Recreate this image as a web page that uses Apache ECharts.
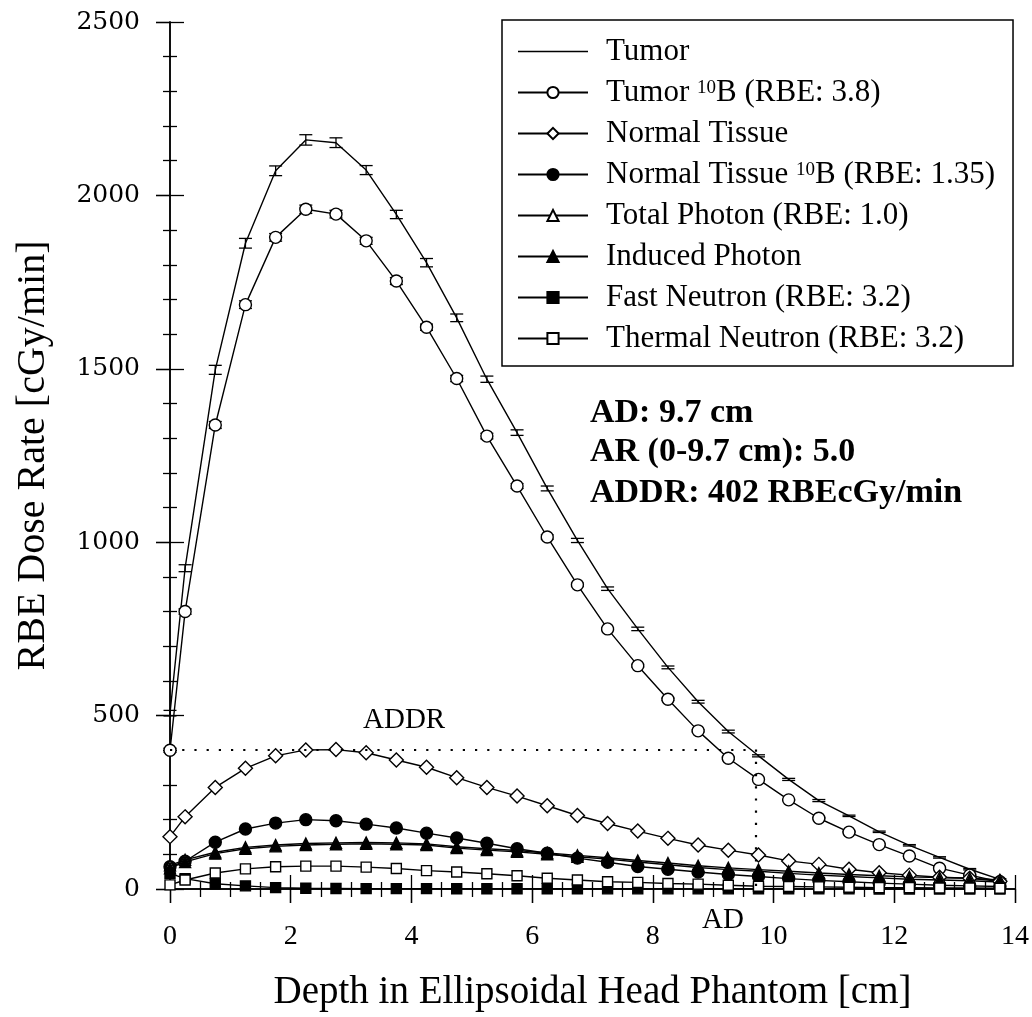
<!DOCTYPE html>
<html>
<head>
<meta charset="utf-8">
<script src="https://cdn.jsdelivr.net/npm/echarts@6/dist/echarts.min.js"></script>
<style>
  html, body { margin: 0; padding: 0; background: #fff; }
  #chart { width: 1032px; height: 1017px; }
</style>
</head>
<body>
<div id="chart"></div>
<script>
// Depth of each sample point in the phantom [cm]
const depth = [0, 0.25, 0.75, 1.25, 1.75, 2.25, 2.75, 3.25, 3.75, 4.25, 4.75, 5.25, 5.75, 6.25,
  6.75, 7.25, 7.75, 8.25, 8.75, 9.25, 9.75, 10.25, 10.75, 11.25, 11.75, 12.25, 12.75, 13.25, 13.75];

// RBE dose rates [cGy/min]
const tumor = [507, 925, 1497, 1862, 2071, 2160, 2152, 2073, 1945, 1806, 1647, 1470, 1316, 1155,
  1005, 866, 750, 639, 540, 454, 384, 316, 255, 211, 165, 126, 91, 57, 28];
const tumorErr = [8, 10, 13, 14, 14, 15, 14, 13, 12, 12, 11, 9, 8, 7, 6, 5, 5, 4, 4, 4, 3, 3, 3, 2, 2, 2, 2, 2, 2];

const tumorB10 = [400, 800, 1338, 1685, 1879, 1960, 1946, 1869, 1753, 1620, 1472, 1306, 1162, 1015,
  877, 750, 644, 547, 456, 377, 316, 257, 204, 164, 128, 95, 60, 40, 21];
const tumorB10Err = [6, 8, 10, 11, 11, 12, 11, 10, 10, 9, 9, 8, 7, 6, 5, 4, 4, 3, 3, 3, 2, 2, 2, 2, 2, 1, 1, 1, 1];

const normalTissue = [151, 208, 293, 348, 384, 401, 402, 393, 372, 351, 321, 293, 268, 240,
  212, 189, 167, 146, 127, 112, 98, 81, 71, 57, 47, 40, 34, 31, 22];

const normalB10 = [64, 80, 135, 173, 190, 200, 197, 187, 176, 161, 147, 132, 116, 103,
  89, 77, 65, 57, 49, 42, 36, 30, 25, 21, 17, 14, 11, 9, 7];

const totalPhoton = [68, 84, 106, 120, 127, 131, 133, 134, 133, 130, 122, 116, 111, 104,
  97, 90, 82, 75, 67, 61, 56, 51, 46, 42, 38, 35, 33, 31, 26];

const inducedPhoton = [60, 78, 102, 116, 123, 127, 129, 130, 129, 127, 118, 112, 107, 100,
  93, 86, 78, 70, 62, 56, 51, 45, 40, 36, 32, 28, 26, 24, 20];

const fastNeutron = [45, 30, 15, 9, 4, 2, 1.5, 1.2, 1, 1, 0.9, 0.8, 0.7, 0.6,
  0.6, 0.5, 0.5, 0.4, 0.4, 0.4, 0.3, 0.3, 0.3, 0.3, 0.2, 0.2, 0.2, 0.2, 0.2];

const thermalNeutron = [12, 26, 46, 58, 64, 66, 66, 63, 59, 53, 49, 44, 38, 31,
  26, 21, 19, 16, 14, 11, 8, 7, 6, 5, 4, 4, 3, 3, 2];

// Advantage depth [cm] and advantage depth dose rate [RBEcGy/min]
const AD = 9.7;
const ADDR = 402;

const seriesNames = [
  'Tumor',
  'Tumor 10B (RBE: 3.8)',
  'Normal Tissue',
  'Normal Tissue 10B (RBE: 1.35)',
  'Total Photon (RBE: 1.0)',
  'Induced Photon',
  'Fast Neutron (RBE: 3.2)',
  'Thermal Neutron (RBE: 3.2)'
];

const xTicks = [0, 2, 4, 6, 8, 10, 12, 14];
const yTicks = [0, 500, 1000, 1500, 2000, 2500];

const serif = '"Liberation Serif", "Times New Roman", serif';
const black = '#000';

const pairs = (ys) => depth.map((x, i) => [x, ys[i]]);

function lineSeries(name, ys, symbol, size, filled, extra) {
  return Object.assign({
    name: name,
    type: 'line',
    xAxisIndex: 0,
    yAxisIndex: 0,
    data: pairs(ys),
    symbol: symbol,
    symbolSize: size,
    showAllSymbol: true,
    lineStyle: { color: black, width: 1.4 },
    itemStyle: { color: filled ? black : '#fff', borderColor: black, borderWidth: 1.4 },
    emphasis: { disabled: true },
    silent: true
  }, extra || {});
}

// Vertical error bars with short caps, placed through the value axes
function errorSeries(ys, errs, capHalf) {
  return {
    type: 'custom',
    xAxisIndex: 0,
    yAxisIndex: 0,
    silent: true,
    z: 3,
    data: depth.map((x, i) => [x, ys[i] - errs[i], ys[i] + errs[i]]),
    encode: { x: 0, y: [1, 2] },
    renderItem: function (params, api) {
      const lo = api.coord([api.value(0), api.value(1)]);
      const hi = api.coord([api.value(0), api.value(2)]);
      const st = { stroke: black, lineWidth: 1.3 };
      return {
        type: 'group',
        children: [
          { type: 'line', shape: { x1: lo[0], y1: lo[1], x2: hi[0], y2: hi[1] }, style: st },
          { type: 'line', shape: { x1: lo[0] - capHalf, y1: lo[1], x2: lo[0] + capHalf, y2: lo[1] }, style: st },
          { type: 'line', shape: { x1: hi[0] - capHalf, y1: hi[1], x2: hi[0] + capHalf, y2: hi[1] }, style: st }
        ]
      };
    }
  };
}

const axisLineStyle = { color: black, width: 1.5 };
const tickLineStyle = { color: black, width: 1.3 };

const xBase = { type: 'value', min: 0, max: 14, interval: 2, splitLine: { show: false } };
const yBase = { type: 'value', min: 0, max: 2500, interval: 500, splitLine: { show: false } };

const chart = echarts.init(document.getElementById('chart'), null, { renderer: 'canvas' });

chart.setOption({
  animation: false,
  backgroundColor: '#fff',
  grid: { left: 170, right: 17, top: 22, bottom: 128, containLabel: false },
  xAxis: [
    Object.assign({}, xBase, {
      position: 'bottom',
      name: 'Depth in Ellipsoidal Head Phantom [cm]',
      nameLocation: 'middle',
      nameGap: 84,
      nameTextStyle: { fontFamily: serif, fontSize: 39, color: black },
      axisLine: { show: true, lineStyle: axisLineStyle },
      axisTick: { show: true, inside: false, length: 14, lineStyle: tickLineStyle },
      minorTick: { show: false },
      axisLabel: {
        show: true, margin: 34, fontFamily: serif, fontSize: 28, color: black,
        formatter: (v) => (xTicks.indexOf(v) >= 0 ? String(v) : '')
      }
    }),
    Object.assign({}, xBase, {
      position: 'bottom',
      axisLine: { show: false },
      axisTick: { show: true, inside: true, length: 14, lineStyle: tickLineStyle },
      minorTick: { show: true, splitNumber: 4, length: 7, lineStyle: tickLineStyle },
      axisLabel: { show: false }
    }),
    Object.assign({}, xBase, {
      position: 'top',
      axisLine: { show: true, lineStyle: axisLineStyle },
      axisTick: { show: true, inside: true, length: 14, lineStyle: tickLineStyle },
      minorTick: { show: true, splitNumber: 4, length: 8, lineStyle: tickLineStyle },
      axisLabel: { show: false }
    })
  ],
  yAxis: [
    Object.assign({}, yBase, {
      position: 'left',
      name: 'RBE Dose Rate [cGy/min]',
      nameLocation: 'middle',
      nameGap: 117,
      nameTextStyle: { fontFamily: serif, fontSize: 40, color: black },
      axisLine: { show: true, lineStyle: axisLineStyle },
      axisTick: { show: true, inside: false, length: 14, lineStyle: tickLineStyle },
      minorTick: { show: false },
      axisLabel: {
        show: true, margin: 30, fontFamily: '"DejaVu Serif", serif', fontSize: 25, color: black,
        formatter: (v) => (yTicks.indexOf(v) >= 0 ? String(v) : '')
      }
    }),
    Object.assign({}, yBase, {
      position: 'left',
      axisLine: { show: false },
      axisTick: { show: true, inside: true, length: 14, lineStyle: tickLineStyle },
      minorTick: { show: true, splitNumber: 5, length: 7, lineStyle: tickLineStyle },
      axisLabel: { show: false }
    }),
    Object.assign({}, yBase, {
      position: 'right',
      axisLine: { show: true, lineStyle: axisLineStyle },
      axisTick: { show: true, inside: true, length: 14, lineStyle: tickLineStyle },
      minorTick: { show: true, splitNumber: 5, length: 7, lineStyle: tickLineStyle },
      axisLabel: { show: false }
    })
  ],
  legend: {
    orient: 'vertical',
    left: 502,
    top: 20,
    padding: [16, 18, 12, 15],
    itemWidth: 70,
    itemHeight: 14,
    itemGap: 10,
    selectedMode: false,
    backgroundColor: '#fff',
    borderColor: black,
    borderWidth: 1.5,
    textStyle: {
      fontFamily: serif, fontSize: 31, color: black, lineHeight: 28,
      padding: [0, 0, 0, 13],
      rich: {
        t: { fontFamily: serif, fontSize: 31, color: black, lineHeight: 28 },
        sup: { fontFamily: serif, fontSize: 19, color: black, lineHeight: 28, verticalAlign: 'top' }
      }
    },
    formatter: (name) => {
      const k = name.indexOf('10B');
      if (k < 0) return '{t|' + name + '}';
      return '{t|' + name.slice(0, k) + '}{sup|10}{t|' + name.slice(k + 2) + '}';
    },
    data: [
      {
        name: seriesNames[0],
        icon: 'path://M70,0L70,0.001L69.999,0ZM0,6.3L70,6.3L70,7.7L0,7.7ZM70,14L70,13.999L69.999,14Z',
        itemStyle: { color: black, borderWidth: 0 }
      },
      seriesNames[1], seriesNames[2], seriesNames[3], seriesNames[4],
      seriesNames[5], seriesNames[6], seriesNames[7]
    ]
  },
  graphic: [
    { type: 'text', x: 590, y: 413, style: { text: 'AD: 9.7 cm', font: 'bold 34px "Liberation Serif"', fill: black, align: 'left', verticalAlign: 'middle' } },
    { type: 'text', x: 590, y: 452, style: { text: 'AR (0-9.7 cm): 5.0', font: 'bold 34px "Liberation Serif"', fill: black, align: 'left', verticalAlign: 'middle' } },
    { type: 'text', x: 590, y: 493, style: { text: 'ADDR: 402 RBEcGy/min', font: 'bold 34px "Liberation Serif"', fill: black, align: 'left', verticalAlign: 'middle' } },
    { type: 'text', x: 363, y: 720, style: { text: 'ADDR', font: '29px "Liberation Serif"', fill: black, align: 'left', verticalAlign: 'middle' } },
    { type: 'text', x: 702, y: 920, style: { text: 'AD', font: '29px "Liberation Serif"', fill: black, align: 'left', verticalAlign: 'middle' } }
  ],
  series: [
    lineSeries(seriesNames[0], tumor, 'none', 0, false),
    lineSeries(seriesNames[1], tumorB10, 'circle', 12, false, {
      markLine: {
        silent: true,
        symbol: ['none', 'none'],
        label: { show: false },
        lineStyle: { color: black, width: 2.2, type: [2.2, 10], cap: 'butt' },
        data: [
          [{ coord: [0, ADDR] }, { coord: [AD, ADDR] }],
          [{ coord: [AD, ADDR] }, { coord: [AD, 0] }]
        ]
      }
    }),
    lineSeries(seriesNames[2], normalTissue, 'diamond', 14, false),
    lineSeries(seriesNames[3], normalB10, 'circle', 12, true),
    lineSeries(seriesNames[4], totalPhoton, 'triangle', 11, false),
    lineSeries(seriesNames[5], inducedPhoton, 'triangle', 11, true),
    lineSeries(seriesNames[6], fastNeutron, 'rect', 10, true),
    lineSeries(seriesNames[7], thermalNeutron, 'rect', 10, false),
    errorSeries(tumor, tumorErr, 6.5),
    errorSeries(tumorB10, tumorB10Err, 6.5)
  ]
});
</script>
</body>
</html>
